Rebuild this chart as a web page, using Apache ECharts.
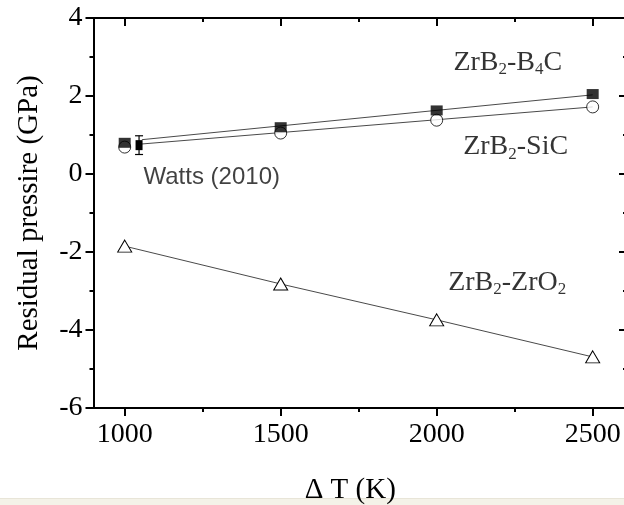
<!DOCTYPE html>
<html>
<head>
<meta charset="utf-8">
<script src="https://cdn.jsdelivr.net/npm/echarts@6/dist/echarts.min.js"></script>
<style>html,body{margin:0;padding:0;background:#fff;}#chart{width:624px;height:505px;}</style>
</head>
<body>
<div id="chart"></div>
<script>
// ---- data ----
const xMajorTicks = [1000, 1500, 2000, 2500];
const xMinorTicks = [1250, 1750, 2250];
const deltaT = [1000, 1500, 2000, 2500];
const b4cValues = [0.80, 1.20, 1.63, 2.05];   // ZrB2-B4C (filled squares)
const sicValues = [0.69, 1.05, 1.38, 1.72];   // ZrB2-SiC (open circles)
const zro2Values = [-1.85, -2.82, -3.74, -4.69]; // ZrB2-ZrO2 (open triangles)
const fitX = [1055, 2500];
const b4cFit = [0.88, 2.03];
const sicFit = [0.77, 1.72];
const wattsX = [1046];
const wattsY = [0.74];
const wattsErr = [0.24];
const labelTexts = ['{m|ZrB}{s|2}{m|-B}{s|4}{m|C}', '{m|ZrB}{s|2}{m|-SiC}', '{m|ZrB}{s|2}{m|-ZrO}{s|2}'];
const labelX = [2228, 2253, 2226];
const labelY = [2.85, 0.69, -2.79];
const wattsLabel = 'Watts (2010)';
const wattsLabelPos = [1279, -0.08];

const serif = 'Liberation Serif';
const sans = 'Liberation Sans';
const xMin = 900, xMax = 2610;

const chart = echarts.init(document.getElementById('chart'), null, {renderer: 'canvas'});

const axisLineStyle = {show: true, onZero: false, lineStyle: {color: '#000', width: 2}};
const tickStyle = {color: '#000', width: 2};
const plain = v => String(v);

const xAxes = [
  { type: 'value', position: 'bottom', min: xMin, max: xMax,
    axisLine: axisLineStyle,
    axisTick: {show: true, customValues: xMajorTicks, length: 8, inside: false, lineStyle: tickStyle},
    axisLabel: {show: true, customValues: xMajorTicks, formatter: plain, fontSize: 28, fontFamily: serif, color: '#000', margin: 13},
    splitLine: {show: false},
    name: 'Δ T (K)', nameLocation: 'middle', nameGap: 68,
    nameTextStyle: {fontSize: 29, fontFamily: serif, color: '#000', padding: [0, 20, 0, 0]} },
  { type: 'value', position: 'bottom', min: xMin, max: xMax,
    axisLine: {show: false, onZero: false},
    axisTick: {show: true, customValues: xMinorTicks, length: 4, inside: false, lineStyle: tickStyle},
    axisLabel: {show: false}, splitLine: {show: false} },
  { type: 'value', position: 'top', min: xMin, max: xMax,
    axisLine: axisLineStyle,
    axisTick: {show: true, customValues: xMajorTicks, length: 8, inside: true, lineStyle: tickStyle},
    axisLabel: {show: false}, splitLine: {show: false} },
  { type: 'value', position: 'top', min: xMin, max: xMax,
    axisLine: {show: false, onZero: false},
    axisTick: {show: true, customValues: xMinorTicks, length: 4, inside: true, lineStyle: tickStyle},
    axisLabel: {show: false}, splitLine: {show: false} }
];

const yAxes = [
  { type: 'value', position: 'left', min: -6, max: 4, interval: 2,
    axisLine: axisLineStyle,
    axisTick: {show: true, length: 8, inside: false, lineStyle: tickStyle},
    minorTick: {show: true, splitNumber: 2, length: 4, lineStyle: tickStyle},
    axisLabel: {fontSize: 28, fontFamily: serif, color: '#000', margin: 11},
    splitLine: {show: false},
    name: 'Residual pressire (GPa)', nameLocation: 'middle', nameRotate: 90, nameGap: 50,
    nameTextStyle: {fontSize: 29, fontFamily: serif, color: '#000'} },
  { type: 'value', position: 'right', min: -6, max: 4, interval: 2,
    axisLine: axisLineStyle,
    axisTick: {show: true, length: 8, inside: true, lineStyle: tickStyle},
    minorTick: {show: true, splitNumber: 2, length: 4, lineStyle: tickStyle},
    axisLabel: {show: false}, splitLine: {show: false} }
];

const pair = (xs, ys) => xs.map((x, i) => [x, ys[i]]);

const option = {
  animation: false,
  backgroundColor: '#fff',
  grid: {left: 93.5, top: 18, width: 533.5, height: 390, containLabel: false, outerBoundsMode: 'none'},
  xAxis: xAxes,
  yAxis: yAxes,
  graphic: [
    {type: 'rect', left: 0, top: 499, shape: {width: 624, height: 6}, style: {fill: '#f4f2e8'}, silent: true},
    {type: 'rect', left: 0, top: 498, shape: {width: 624, height: 1}, style: {fill: '#e8e5d8'}, silent: true}
  ],
  series: [
    { type: 'line', name: 'B4C fit', data: pair(fitX, b4cFit), showSymbol: false, symbol: 'none',
      lineStyle: {color: '#4a4a4a', width: 1}, z: 2 },
    { type: 'line', name: 'SiC fit', data: pair(fitX, sicFit), showSymbol: false, symbol: 'none',
      lineStyle: {color: '#4a4a4a', width: 1}, z: 2 },
    { type: 'line', name: 'ZrB2-ZrO2', data: pair(deltaT, zro2Values), symbol: 'triangle', symbolSize: [14, 12],
      itemStyle: {color: '#fff', borderColor: '#000', borderWidth: 1},
      lineStyle: {color: '#4a4a4a', width: 1}, z: 3 },
    { type: 'scatter', name: 'ZrB2-SiC', data: pair(deltaT, sicValues), symbol: 'circle', symbolSize: 12,
      itemStyle: {color: '#fff', borderColor: '#000', borderWidth: 1}, z: 4 },
    { type: 'scatter', name: 'ZrB2-B4C', data: pair(deltaT, b4cValues), symbol: 'rect', symbolSize: [12, 10],
      itemStyle: {color: '#000'}, z: 5 },
    { type: 'custom', name: 'Watts', z: 6,
      data: wattsX.map((x, i) => [x, wattsY[i], wattsErr[i]]),
      renderItem: function (params, api) {
        const x = api.value(0), y = api.value(1), e = api.value(2);
        const p = api.coord([x, y]);
        const t = api.coord([x, y + e]);
        const b = api.coord([x, y - e]);
        const s = {stroke: '#000', lineWidth: 1.2};
        return {type: 'group', children: [
          {type: 'line', shape: {x1: p[0], y1: t[1], x2: p[0], y2: b[1]}, style: s},
          {type: 'line', shape: {x1: p[0] - 4, y1: t[1], x2: p[0] + 4, y2: t[1]}, style: s},
          {type: 'line', shape: {x1: p[0] - 4, y1: b[1], x2: p[0] + 4, y2: b[1]}, style: s},
          {type: 'rect', shape: {x: p[0] - 3.5, y: p[1] - 5, width: 7, height: 10}, style: {fill: '#000'}}
        ]};
      } },
    { type: 'scatter', name: 'labels', symbolSize: 0, z: 7, silent: true,
      data: labelTexts.map((t, i) => ({value: [labelX[i], labelY[i]], label: {formatter: t}})),
      label: {show: true, position: 'inside', color: '#000',
        rich: {
          m: {fontSize: 28, fontFamily: serif, color: '#000', lineHeight: 30},
          s: {fontSize: 17, fontFamily: serif, color: '#000', lineHeight: 14, padding: [14, 0, 0, 0]}
        }} },
    { type: 'scatter', name: 'watts label', symbolSize: 0, z: 7, silent: true,
      data: [{value: wattsLabelPos, label: {formatter: wattsLabel}}],
      label: {show: true, position: 'inside', color: '#111', fontSize: 24, fontFamily: sans} }
  ]
};
chart.setOption(option);
</script>
</body>
</html>
